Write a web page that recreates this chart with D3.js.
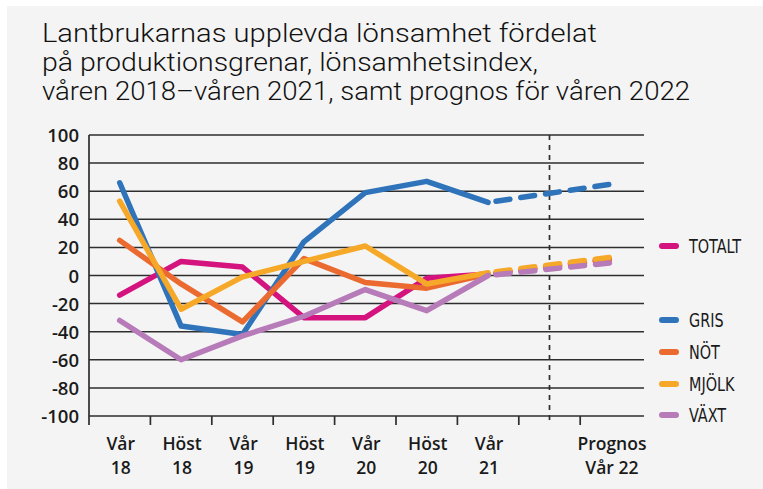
<!DOCTYPE html>
<html>
<head>
<meta charset="utf-8">
<script src="https://cdn.jsdelivr.net/npm/d3@7"></script>
<style>
  body { margin: 0; background: #fff; }
  svg { display: block; }
</style>
</head>
<body>
<svg id="chart" width="763" height="489"></svg>
<script>
// data
var titleLines = [
  "Lantbrukarnas upplevda lönsamhet fördelat",
  "på produktionsgrenar, lönsamhetsindex,",
  "våren 2018–våren 2021, samt prognos för våren 2022"
];
var titleWidths = [555, 496, 648];
var labelTop = ["Vår", "Höst", "Vår", "Höst", "Vår", "Höst", "Vår", "", "Prognos"];
var labelBottom = ["18", "18", "19", "19", "20", "20", "21", "", "Vår 22"];
// band index of each value (slot 7 is empty, last is the forecast)
var slots = [0, 1, 2, 3, 4, 5, 6, 8];
var yTicks = [100, 80, 60, 40, 20, 0, -20, -40, -60, -80, -100];

var totalt = [-14, 10, 6, -30, -30, -2, 1, 12];
var gris   = [66, -36, -42, 24, 59, 67, 52, 65];
var not    = [25, -6, -33, 12, -5, -9, 1, 11];
var mjolk  = [53, -24, -1, 10, 21, -6, 2, 13];
var vaxt   = [-32, -60, -43, -29, -10, -25, 0, 9];

var series = [
  { name: "TOTALT", values: totalt, color: "#d5137f", ly: 246 },
  { name: "GRIS",   values: gris,   color: "#2f74ba", ly: 320 },
  { name: "NÖT",    values: not,    color: "#ea6a2f", ly: 352 },
  { name: "MJÖLK",  values: mjolk,  color: "#f6a828", ly: 384 },
  { name: "VÄXT",   values: vaxt,   color: "#b67bb8", ly: 415 }
];

var svg = d3.select("#chart");

svg.append("rect").attr("x", 7).attr("y", 6).attr("width", 756).attr("height", 483)
  .attr("fill", "#f4f4f4");

// title
svg.append("g").selectAll("text").data(titleLines).enter().append("text")
  .attr("x", 42).attr("y", function (d, i) { return 42 + i * 29; })
  .attr("font-family", "Roboto, sans-serif").attr("font-weight", 300)
  .attr("font-size", 25).attr("fill", "#111")
  .attr("textLength", function (d, i) { return titleWidths[i]; })
  .attr("lengthAdjust", "spacingAndGlyphs")
  .text(function (d) { return d; });

var x = d3.scaleBand().domain(d3.range(9)).range([89, 641.6]);
var y = d3.scaleLinear().domain([-100, 100]).range([416, 135]);
var cx = function (i) { return x(i) + x.bandwidth() / 2; };

// grid
svg.append("g").selectAll("line").data(yTicks).enter().append("line")
  .attr("x1", 89).attr("x2", 644)
  .attr("y1", function (d) { return y(d); }).attr("y2", function (d) { return y(d); })
  .attr("stroke", "#2e2e2e").attr("stroke-width", 1.5);

svg.append("line").attr("x1", 89).attr("x2", 89).attr("y1", y(100)).attr("y2", 425)
  .attr("stroke", "#2e2e2e").attr("stroke-width", 1.7);

// x ticks
svg.append("g").selectAll("line").data(d3.range(1, 9)).enter().append("line")
  .attr("x1", function (d) { return x(d); })
  .attr("x2", function (d) { return x(d); })
  .attr("y1", y(-100)).attr("y2", 425)
  .attr("stroke", "#2e2e2e").attr("stroke-width", 1.7);

// forecast divider
svg.append("line").attr("x1", cx(7)).attr("x2", cx(7)).attr("y1", y(100)).attr("y2", 425)
  .attr("stroke", "#2e2e2e").attr("stroke-width", 1.7).attr("stroke-dasharray", "5,5");

// y labels
svg.append("g").selectAll("text").data(yTicks).enter().append("text")
  .attr("x", 79).attr("y", function (d) { return y(d) + 7; })
  .attr("text-anchor", "end")
  .attr("font-family", "'Open Sans', sans-serif").attr("font-weight", 600)
  .attr("font-size", 18.5).attr("fill", "#1a1a1a")
  .text(function (d) { return d; });

// x labels
var xl = svg.append("g")
  .attr("font-family", "'Open Sans', sans-serif").attr("font-weight", 600)
  .attr("font-size", 17.5).attr("fill", "#1a1a1a").attr("text-anchor", "middle");
xl.selectAll(".t1").data(labelTop).enter().append("text")
  .attr("x", function (d, i) { return cx(i) + 1; }).attr("y", 450)
  .text(function (d) { return d; });
xl.selectAll(".t2").data(labelBottom).enter().append("text")
  .attr("x", function (d, i) { return cx(i) + 1; }).attr("y", 474)
  .text(function (d) { return d; });

// lines
var line = d3.line().x(function (d) { return cx(d[0]); }).y(function (d) { return y(d[1]); });
series.forEach(function (s) {
  var pts = s.values.map(function (v, i) { return [slots[i], v]; });
  svg.append("path").datum(pts.slice(0, 7)).attr("d", line)
    .attr("fill", "none").attr("stroke", s.color).attr("stroke-width", 5.5)
    .attr("stroke-linecap", "round").attr("stroke-linejoin", "round");
  svg.append("path").datum(pts.slice(6)).attr("d", line)
    .attr("fill", "none").attr("stroke", s.color).attr("stroke-width", 5.5)
    .attr("stroke-dasharray", "14,11").attr("stroke-dashoffset", -8)
    .attr("stroke-linecap", "round");
});

// legend
var lg = svg.append("g").selectAll("g").data(series).enter().append("g")
  .attr("transform", function (d) { return "translate(0," + d.ly + ")"; });
lg.append("line").attr("x1", 662).attr("x2", 676).attr("y1", 0).attr("y2", 0)
  .attr("stroke", function (d) { return d.color; }).attr("stroke-width", 6)
  .attr("stroke-linecap", "round");
lg.append("text")
  .attr("transform", "translate(689,7) scale(0.8,1)")
  .attr("font-family", "'Liberation Sans Narrow', 'DejaVu Sans Condensed', sans-serif")
  .attr("font-size", 20).attr("fill", "#1a1a1a")
  .text(function (d) { return d.name; });
</script>
</body>
</html>
